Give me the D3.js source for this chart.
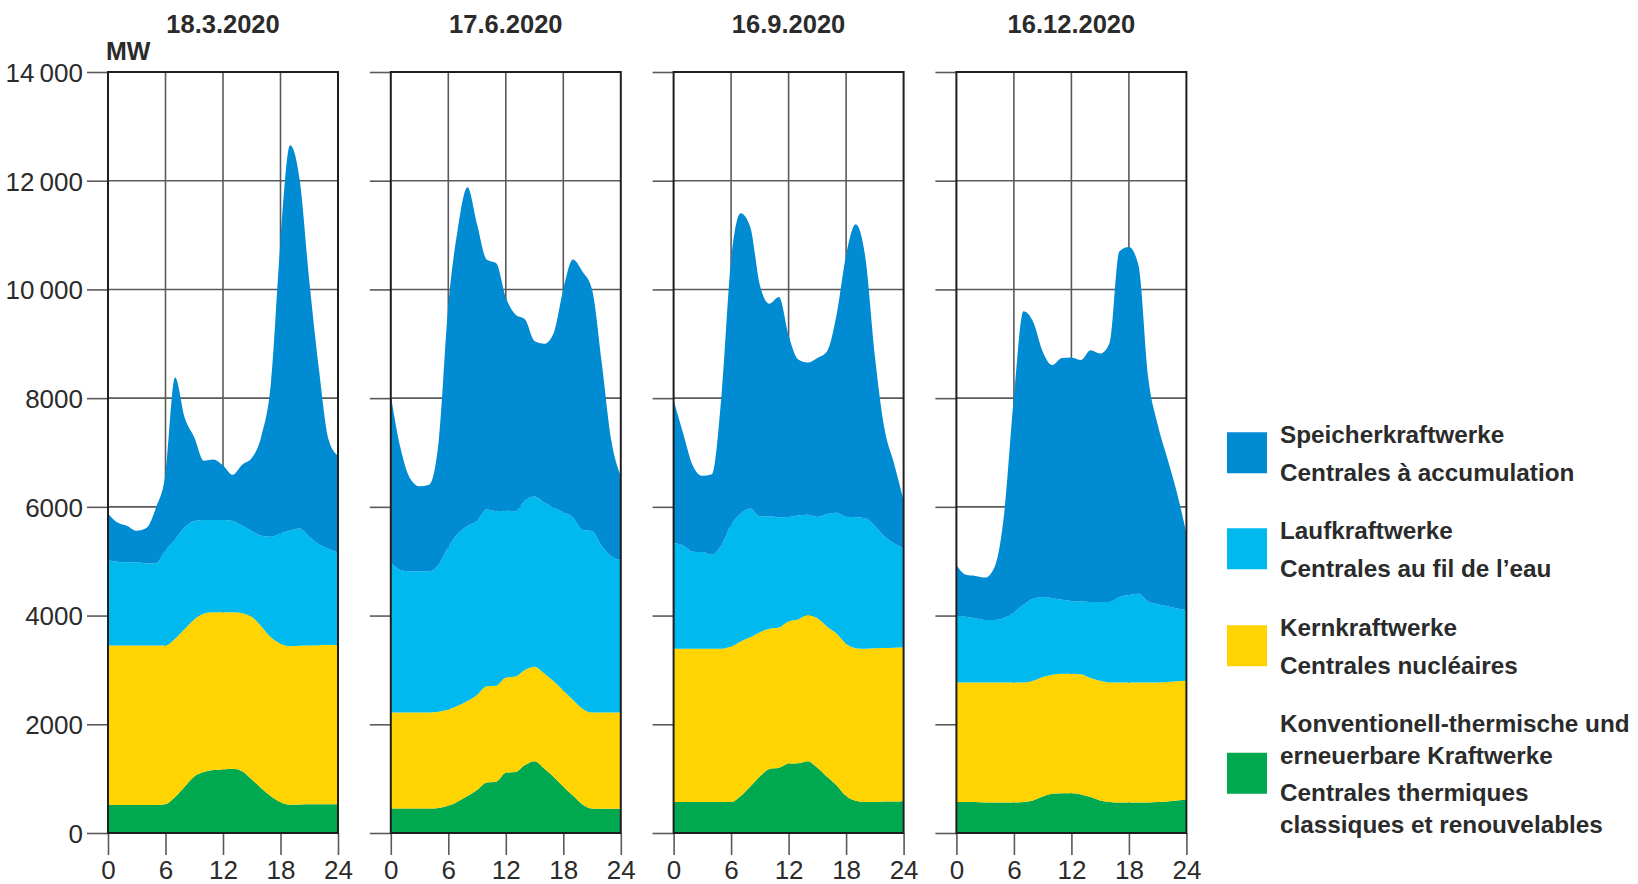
<!DOCTYPE html>
<html>
<head>
<meta charset="utf-8">
<script src="https://cdn.jsdelivr.net/npm/d3@7"></script>
<style>
    body { margin: 0; background: #fff; }
    svg text { font-family: "Liberation Sans", Arial, sans-serif; fill: #2b2b2b; }
</style>
</head>
<body>
<svg id="chart" width="1638" height="884"></svg>
<script>
// hourly production, MW, one row per day
const days = ["18.3.2020", "17.6.2020", "16.9.2020", "16.12.2020"];
const hours = [0,1,2,3,4,5,6,7,8,9,10,11,12,13,14,15,16,17,18,19,20,21,22,23,24];

const thermal = [
    [520,515,515,515,515,515,530,660,850,1040,1120,1160,1170,1180,1135,985,825,675,565,520,525,530,530,530,530],
    [450,450,450,450,450,460,500,580,680,790,930,945,1108,1120,1250,1320,1185,1030,850,690,525,450,445,445,445],
    [570,570,570,570,570,570,570,680,855,1040,1178,1200,1280,1285,1320,1200,1035,880,680,595,570,570,580,580,590],
    [570,570,570,560,560,560,560,570,600,670,720,730,730,710,660,600,570,560,560,560,560,570,580,600,610]
];
const nuclear = [
    [2930,2935,2935,2935,2935,2935,2920,2915,2903,2890,2920,2900,2890,2880,2910,2993,2975,2925,2915,2914,2920,2920,2925,2930,2930],
    [1765,1765,1765,1765,1765,1770,1770,1760,1750,1750,1770,1765,1752,1760,1750,1740,1755,1760,1770,1760,1760,1765,1770,1770,1770],
    [2820,2820,2820,2820,2820,2820,2860,2845,2745,2655,2580,2580,2615,2645,2690,2750,2765,2790,2800,2805,2820,2830,2825,2830,2825],
    [2200,2200,2200,2210,2210,2210,2210,2200,2200,2200,2190,2200,2200,2210,2190,2200,2200,2210,2210,2210,2210,2200,2200,2190,2190]
];
const runOfRiver = [
    [1570,1540,1530,1530,1510,1510,1750,1825,1870,1810,1720,1700,1700,1680,1610,1580,1670,1850,2035,2130,2155,2000,1855,1770,1700],
    [2760,2625,2600,2600,2600,2710,2990,3170,3220,3205,3250,3210,3070,3040,3115,3130,3140,3200,3280,3360,3295,3340,3070,2875,2805],
    [1940,1900,1785,1780,1730,1910,2240,2355,2370,2125,2070,2030,1920,1910,1845,1865,2070,2220,2340,2410,2400,2250,2055,1920,1820],
    [1230,1210,1180,1150,1150,1190,1290,1430,1510,1470,1410,1360,1340,1340,1400,1450,1480,1570,1610,1630,1490,1440,1390,1340,1300]
];
const storage = [
    [860,720,670,580,650,1020,1400,2980,2020,1540,1090,1110,1000,850,1120,1340,1830,2830,5370,7090,6420,4720,3240,2020,1780],
    [3075,2250,1712,1562,1590,2270,4450,5610,6230,5455,4600,4560,3924,3620,3335,2860,2920,3210,4100,4740,4750,4445,3385,2140,1550],
    [2630,2060,1585,1400,1480,2750,4870,5520,5180,4260,3910,4050,3340,2870,2800,2925,2990,3640,4810,5390,4810,3130,1980,1470,880],
    [930,770,780,780,980,1940,3970,5400,5100,4520,4290,4450,4480,4440,4630,4570,4770,6360,6400,6040,4140,3310,2730,2140,1410]
];

const yTicks = [0, 2000, 4000, 6000, 8000, 10000, 12000, 14000];
const yTickLabels = ["0", "2000", "4000", "6000", "8000", "10\u2009000", "12\u2009000", "14\u2009000"];
const xTicks = [0, 6, 12, 18, 24];

const keys = ["thermal", "nuclear", "river", "storage"];
const colors = {
    storage: "#008bd2",
    river: "#00b9ef",
    nuclear: "#ffd400",
    thermal: "#00a84f"
};
const legendItems = [
    { key: "storage", de: ["Speicherkraftwerke"], fr: ["Centrales à accumulation"] },
    { key: "river", de: ["Laufkraftwerke"], fr: ["Centrales au fil de l\u2019eau"] },
    { key: "nuclear", de: ["Kernkraftwerke"], fr: ["Centrales nucléaires"] },
    { key: "thermal", de: ["Konventionell-thermische und", "erneuerbare Kraftwerke"], fr: ["Centrales thermiques", "classiques et renouvelables"] }
];

(function() {
    var svg = d3.select("#chart");

    var panelW = 230,
        panelStep = 282.8,
        firstLeft = 108,
        plotTop = 72,
        plotBottom = 833;

    var y = d3.scaleLinear().domain([0, 14000]).range([plotBottom, plotTop]);

    days.forEach(function(day, i) {
        var left = firstLeft + i * panelStep;
        var x = d3.scaleLinear().domain([0, 24]).range([left, left + panelW]);

        var g = svg.append("g").attr("class", "panel");

        // grid
        g.selectAll(".hgrid")
            .data(yTicks.slice(1, -1))
            .enter().append("line")
            .attr("x1", left).attr("x2", left + panelW)
            .attr("y1", d => y(d)).attr("y2", d => y(d))
            .attr("stroke", "#5a5a5a").attr("stroke-width", 1.6);
        g.selectAll(".vgrid")
            .data(xTicks.slice(1, -1))
            .enter().append("line")
            .attr("x1", d => x(d)).attr("x2", d => x(d))
            .attr("y1", plotTop).attr("y2", plotBottom)
            .attr("stroke", "#5a5a5a").attr("stroke-width", 1.6);

        // stacked areas
        var rows = hours.map(function(h, j) {
            return {
                hour: h,
                thermal: thermal[i][j],
                nuclear: nuclear[i][j],
                river: runOfRiver[i][j],
                storage: storage[i][j]
            };
        });
        var series = d3.stack().keys(keys)(rows);
        var area = d3.area()
            .curve(d3.curveMonotoneX)
            .x(d => x(d.data.hour))
            .y0(d => y(d[0]))
            .y1(d => y(d[1]));

        g.selectAll(".layer")
            .data(series)
            .enter().append("path")
            .attr("d", area)
            .attr("fill", d => colors[d.key]);

        // y ticks on the left of each panel
        var yAxis = d3.axisLeft(y).tickValues(yTicks).tickSize(21).tickFormat("");
        var ya = g.append("g").attr("transform", "translate(" + left + ",0)").call(yAxis);
        ya.select(".domain").remove();
        ya.selectAll("line").attr("stroke", "#5a5a5a").attr("stroke-width", 1.6);
        ya.selectAll(".tick text").remove();

        if (i === 0) {
            ya.selectAll(".tick")
                .append("text")
                .attr("x", -25)
                .attr("dy", "0.36em")
                .attr("text-anchor", "end")
                .attr("fill", "#2b2b2b")
                .style("font-size", "26px")
                .text((d, k) => yTickLabels[k]);
        }

        // x axis
        var xAxis = d3.axisBottom(x).tickValues(xTicks).tickSize(22).tickPadding(6);
        var xa = g.append("g").attr("transform", "translate(0," + plotBottom + ")").call(xAxis);
        xa.select(".domain").remove();
        xa.selectAll("line").attr("stroke", "#5a5a5a").attr("stroke-width", 1.6);
        xa.selectAll("text")
            .attr("fill", "#2b2b2b")
            .style("font-size", "26px")
            .style("font-family", "'Liberation Sans', Arial, sans-serif");

        // frame
        g.append("rect")
            .attr("x", left).attr("y", plotTop)
            .attr("width", panelW).attr("height", plotBottom - plotTop)
            .attr("fill", "none")
            .attr("stroke", "#1e1e1e")
            .attr("stroke-width", 2);

        // date title
        g.append("text")
            .attr("x", left + panelW / 2)
            .attr("y", 33)
            .attr("text-anchor", "middle")
            .style("font-size", "25.5px")
            .style("font-weight", "bold")
            .text(day);
    });

    svg.append("text")
        .attr("x", 106)
        .attr("y", 60)
        .style("font-size", "25px")
        .style("font-weight", "bold")
        .text("MW");

    // legend
    var legendX = 1227,
        textX = 1280,
        firstBaselines = [443, 539, 636, 732],
        lineStep = 31.5,
        langGap = 37.5;

    legendItems.forEach(function(item, i) {
        var lg = svg.append("g").attr("class", "legend");
        var base = firstBaselines[i];
        var lines = [];
        item.de.forEach((t, k) => lines.push({ t: t, y: base + k * lineStep }));
        var frStart = base + (item.de.length - 1) * lineStep + langGap;
        item.fr.forEach((t, k) => lines.push({ t: t, y: frStart + k * lineStep }));

        var blockTop = base - 18,
            blockBottom = lines[lines.length - 1].y;
        var mid = (blockTop + blockBottom) / 2;

        lg.append("rect")
            .attr("x", legendX)
            .attr("y", mid - 20.5)
            .attr("width", 40)
            .attr("height", 41)
            .attr("fill", colors[item.key]);

        lg.selectAll("text")
            .data(lines)
            .enter().append("text")
            .attr("x", textX)
            .attr("y", d => d.y)
            .style("font-size", "24.3px")
            .style("font-weight", "bold")
            .text(d => d.t);
    });
})();
</script>
</body>
</html>
